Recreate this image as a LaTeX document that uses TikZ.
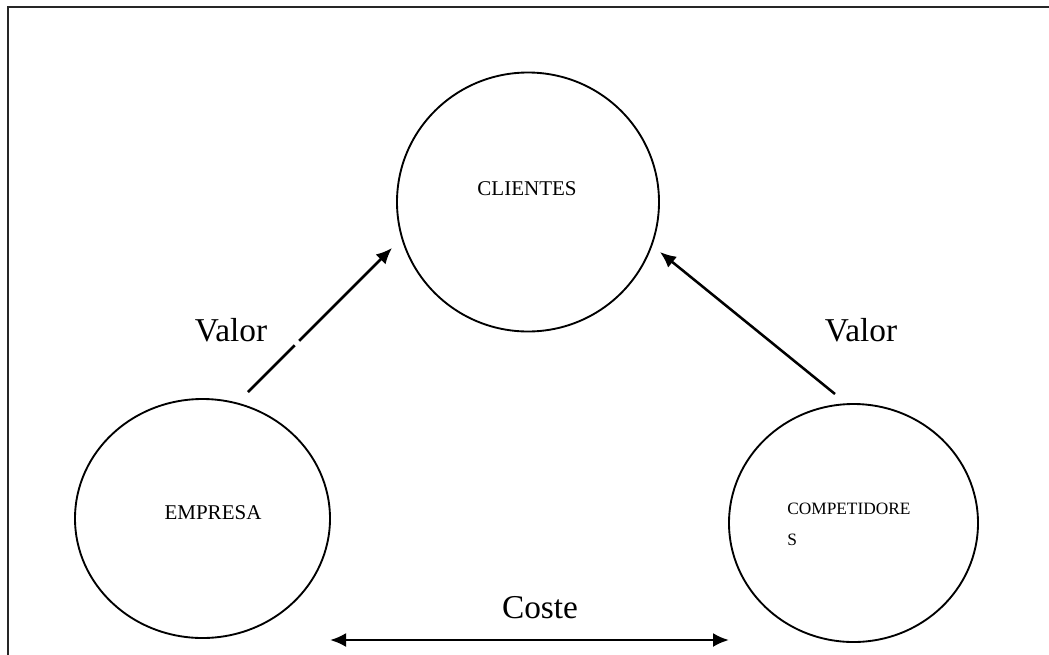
\documentclass[tikz,border=0pt]{standalone}
\usepackage{fontspec}
\setmainfont{Liberation Serif}
\usetikzlibrary{shapes.geometric,arrows.meta,calc}
\begin{document}
\begin{tikzpicture}[x=0.75pt,y=-0.75pt,
  party/.style={draw,ellipse,line width=1.4pt,inner sep=0pt},
  tip/.style={Latex[length=12pt,width=10.5pt]},
  flow/.style={line width=1.9pt,-{Latex[length=12pt,width=10.5pt]}},
  both/.style={line width=1.9pt,{Latex[length=12pt,width=10.5pt]}-{Latex[length=12pt,width=10.5pt]}},
  bigtxt/.style={font=\fontsize{25}{30}\selectfont,inner sep=0pt},
  smalltxt/.style={font=\fontsize{15.75}{19}\selectfont,inner sep=0pt}]
\useasboundingbox (0,0) rectangle (1049,654);
\clip (0,0) rectangle (1049,654);
% outer frame, running past the page edge on the right and bottom
\draw[line width=2pt,black!85] (8,7) rectangle (1070,680);

% the three parties
\node[party,minimum width=196.5pt,minimum height=194.25pt] (cli) at (528,202) {};
\node[party,minimum width=191.25pt,minimum height=179.25pt] (emp) at (202.5,518.5) {};
\node[party,minimum width=186.75pt,minimum height=178.5pt] (comp) at (853.5,523) {};

\node[smalltxt] (clitxt) at (527,189) {CLIENTES};
\node[smalltxt] (emptxt) at (213,513) {EMPRESA};
\node[font=\fontsize{13}{23.25}\selectfont,inner sep=0pt,anchor=north west,align=left]
  (comptxt) at (787,503) {COMPETIDORE\\S};

% value flows
\coordinate (v1s) at (248,392);
\coordinate (v1e) at (392,248);
\coordinate (v2s) at (835,394);
\coordinate (v2e) at (660,252);
\draw[flow] (v1s) -- (v1e);
\draw[white,line width=3.5pt] ($(v1s)!0.325!(v1e)$) -- ($(v1s)!0.355!(v1e)$);
\draw[flow] (v2s) -- (v2e);
\node[bigtxt] (val1) at (231,330) {Valor};
\node[bigtxt] (val2) at (861,330) {Valor};

% cost relation
\coordinate (c1) at (330,640);
\coordinate (c2) at (729,640);
\draw[both] (c1) -- (c2);
\node[bigtxt] (cost) at (540,608) {Coste};
\end{tikzpicture}
\end{document}
